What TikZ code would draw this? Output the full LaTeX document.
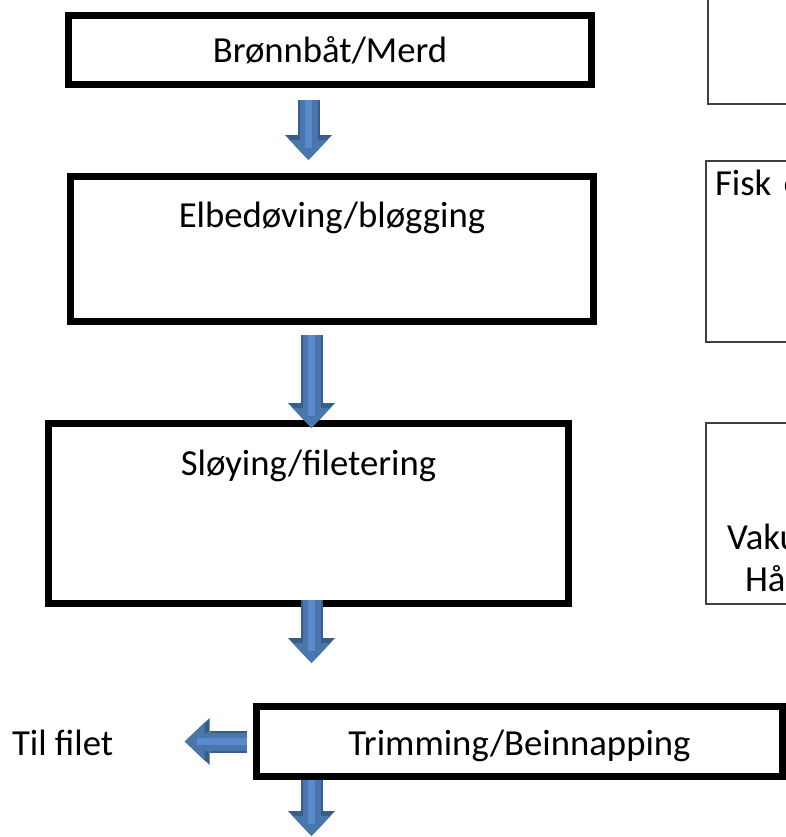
\documentclass[tikz,border=0pt]{standalone}
\usepackage{fontspec}
\setmainfont{Carlito}
\usepackage{tikz}
\usetikzlibrary{arrows.meta,positioning}
\usepackage{xcolor}
\definecolor{arrowedge}{HTML}{385D8A}
\definecolor{arrowbody}{HTML}{4A76AE}
\definecolor{arrowlight}{HTML}{5A8ACB}

\begin{document}
\begin{tikzpicture}[
    x=0.5pt, y=-0.5pt,
    every node/.style={font=\fontsize{18.35}{22}\selectfont, inner sep=0pt, outer sep=0pt},
    stepbox/.style={draw, line width=3.5pt, anchor=north},
    sidebox/.style={draw=black!75, line width=1pt, anchor=north west, minimum width=200pt},
    flow/.style={draw=arrowbody, line width=9pt,
        -{Triangle[width=19pt,length=10pt,line width=0pt]},
        preaction={draw=arrowedge, line width=11pt,
            -{Triangle[width=23.5pt,length=12.5pt,line width=0pt]}},
        postaction={draw=arrowlight, line width=3.5pt, -, shorten >=6pt}}
]
    \useasboundingbox (0,0) rectangle (786,837);
    \coordinate (spine) at (311.5,0);
    \coordinate (spinetop) at (308.5,0);

    % process steps
    \node[stepbox, minimum width=261.5pt, text height=23.25pt, text depth=11.25pt] (merd) at (330,15.5) {Brønnbåt/Merd};
    \node[stepbox, minimum width=261.5pt, text height=25.25pt, text depth=47.25pt] (stun) at (332,176.5) {Elbedøving/bløgging};
    \node[stepbox, minimum width=260pt, text height=25.75pt, text depth=64.25pt] (slo) at (308.5,423.5) {Sløying/filetering};
    \node[stepbox, minimum width=263pt, text height=24.25pt, text depth=10.75pt] (trim) at (519.5,706.5) {Trimming/Beinnapping};
    \node[anchor=base west] (tilfilet) at (12,755) {Til filet};

    % boxes on the right
    \node[sidebox, minimum height=62pt] (side1) at (708,-20) {};
    \node[sidebox, minimum width=0pt, inner xsep=4.5pt, text width=200pt, align=left,
          text height=17pt, text depth=73.5pt] (side2) at (706,161) {Fisk e};
    \node[sidebox, minimum height=90.5pt] (side3) at (706,423) {};
    \node[anchor=base west] (vaku) at (727,549) {Vaku};
    \node[anchor=base west] (haa) at (745,591) {Hå};

    % arrows
    \draw[flow] ([yshift=-7.75pt]merd.south -| spinetop) -- ([yshift=8.25pt]stun.north -| spinetop);
    \draw[flow] ([yshift=-6.75pt]stun.south -| spine) -- ([yshift=-2.25pt]slo.north -| spine);
    \draw[flow] ([yshift=1.75pt]slo.south -| spine) -- ([yshift=21.75pt]trim.north -| spine);
    \draw[flow] ([xshift=-4.75pt]trim.west) -- ([xshift=35.75pt]tilfilet.east |- trim.west);
    \coordinate (ut) at (311.5,836);
    \draw[flow] ([yshift=-1.75pt]trim.south -| spine) -- (ut);
\end{tikzpicture}
\end{document}
